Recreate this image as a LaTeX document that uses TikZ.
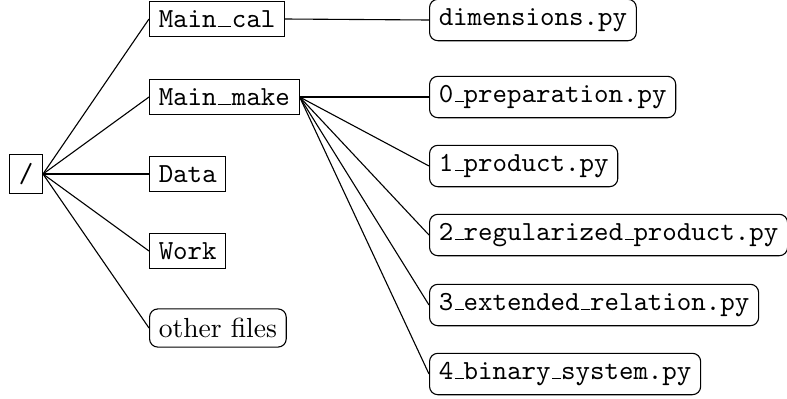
\documentclass[tikz,border=0pt]{standalone}
\newcommand{\usc}{\leavevmode\kern.06em\vbox{\hrule width.3em}}
\newcommand{\lusc}{\makebox[.525em][c]{\rule{.46em}{.4pt}}}
\newcommand{\cmtt}{\fontencoding{OT1}\fontfamily{cmtt}\selectfont}
\begin{document}
\begin{tikzpicture}[x=0.3623pt,y=-0.3623pt,
  dirbox/.style={draw,rectangle,font=\cmtt,anchor=west},
  filebox/.style={draw,rectangle,rounded corners=3pt,font=\cmtt,anchor=west},
  otherbox/.style={draw,rectangle,rounded corners=3pt,anchor=west}]
\useasboundingbox (0,0) rectangle (787,398);
\node[draw,rectangle,font=\cmtt] (root) at (26,174) {/};
\node[dirbox] (cal) at (149,19) {Main\lusc cal};
\node[dirbox] (make) at (149,97) {Main\lusc make};
\node[dirbox] (data) at (149,174) {Data};
\node[dirbox] (work) at (149,251) {Work};
\node[otherbox] (other) at (149,328) {other files};
\node[filebox] (dim) at (429,20) {dimensions.py};
\node[filebox] (f0) at (429,97) {0\usc preparation.py};
\node[filebox] (f1) at (429,166) {1\usc product.py};
\node[filebox] (f2) at (429,235) {2\usc regularized\usc product.py};
\node[filebox] (f3) at (429,305) {3\usc extended\usc relation.py};
\node[filebox] (f4) at (429,374) {4\usc binary\usc system.py};
\foreach \n in {cal,make,data,work,other} \draw (root.east) -- (\n.west);
\draw (cal.east) -- (dim.west);
\foreach \n in {f0,f1,f2,f3,f4} \draw (make.east) -- (\n.west);
\end{tikzpicture}
\end{document}
